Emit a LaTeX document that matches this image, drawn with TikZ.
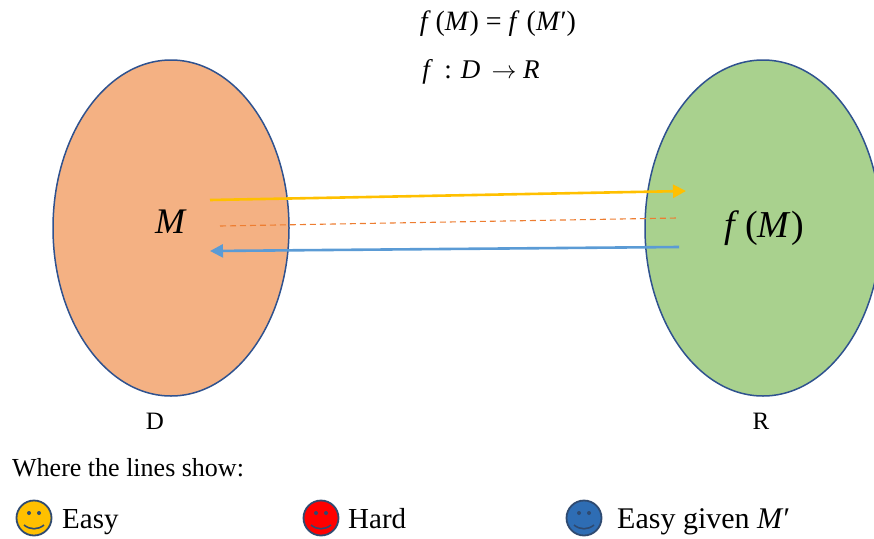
\documentclass[tikz,border=0pt]{standalone}
\usepackage{fontspec}
\setmainfont{Liberation Serif}
\usetikzlibrary{shapes.geometric,arrows.meta}
\definecolor{outl}{HTML}{2F528F}
\definecolor{orfill}{HTML}{F4B183}
\definecolor{grfill}{HTML}{A9D18E}
\definecolor{ylw}{HTML}{FFC000}
\definecolor{blu}{HTML}{5B9BD5}
\definecolor{org}{HTML}{ED7D31}
\definecolor{fblu}{HTML}{2E6DB4}
\definecolor{fline}{HTML}{2F4A70}
\newcommand{\fs}[1]{\fontsize{#1}{#1}\selectfont}
\newcommand{\iv}[1]{\textit{#1}}
\tikzset{
  x=1pt,y=-1pt,
  blob/.style={ellipse,draw=outl,line width=1.5pt,minimum width=236pt,minimum height=336pt,inner sep=0pt},
  lab/.style={inner sep=0pt,text=black,anchor=base},
  labw/.style={inner sep=0pt,text=black,anchor=base west},
  face/.style={circle,draw=fline,line width=1.8pt,minimum size=35pt,inner sep=0pt},
  conn/.style={line width=2.6pt,-{Triangle[length=13pt,width=13pt]}},
  dashconn/.style={org,line width=1.1pt,dash pattern=on 6pt off 4pt},
  feat/.style={fline,line width=1.6pt},
}
\newcommand{\happy}[3]{%
  \node[face,fill=#2] (#1) at (#3,518) {};
  \fill[fline] (#3-5,513) circle (2pt) (#3+5,513) circle (2pt);
  \draw[feat] (#3-10,525) .. controls (#3-4,530) and (#3+4,530) .. (#3+10,525);
}
\begin{document}
\begin{tikzpicture}
\useasboundingbox (0,0) rectangle (874,538);
\clip (0,0) rectangle (874,538);
\node[blob,fill=orfill] (D) at (171,228) {};
\node[blob,fill=grfill] (R) at (763,228) {};
\node[lab] (eq1) at (498,30) {\fs{28}\iv{f}\,(\iv{M})\ =\ \iv{f}\ (\iv{M}′)};
\node[lab] (eq2) at (481,78) {\fs{27}\iv{f}\, : \iv{D}\ \,$\rightarrow$ \iv{R}};
\node[lab] (m) at (171,233) {\fs{36}\iv{M}};
\node[lab] (fm) at (764,237) {\fs{38}\iv{f}\,(\iv{M})};
\node[lab] (dl) at (155,429) {\fs{25}D};
\node[lab] (rl) at (761,429) {\fs{25}R};
\node[labw] (w) at (12,476) {\fs{26}Where the lines show:};
\coordinate (y1) at (210,200);
\coordinate (y2) at (686,191);
\coordinate (d1) at (220,226);
\coordinate (d2) at (677,218);
\coordinate (b1) at (679,247);
\coordinate (b2) at (210,251);
\draw[conn,ylw] (y1) -- (y2);
\draw[dashconn] (d1) -- (d2);
\draw[conn,blu] (b1) -- (b2);
\happy{fa}{ylw}{34}
\happy{fb}{red}{321}
\happy{fc}{fblu}{584}
\node[labw] (ea) at (62,528) {\fs{29}Easy};
\node[labw] (ha) at (348,528) {\fs{29}Hard};
\node[labw] (eg) at (617,528) {\fs{30}Easy given \iv{M}′};
\end{tikzpicture}
\end{document}
